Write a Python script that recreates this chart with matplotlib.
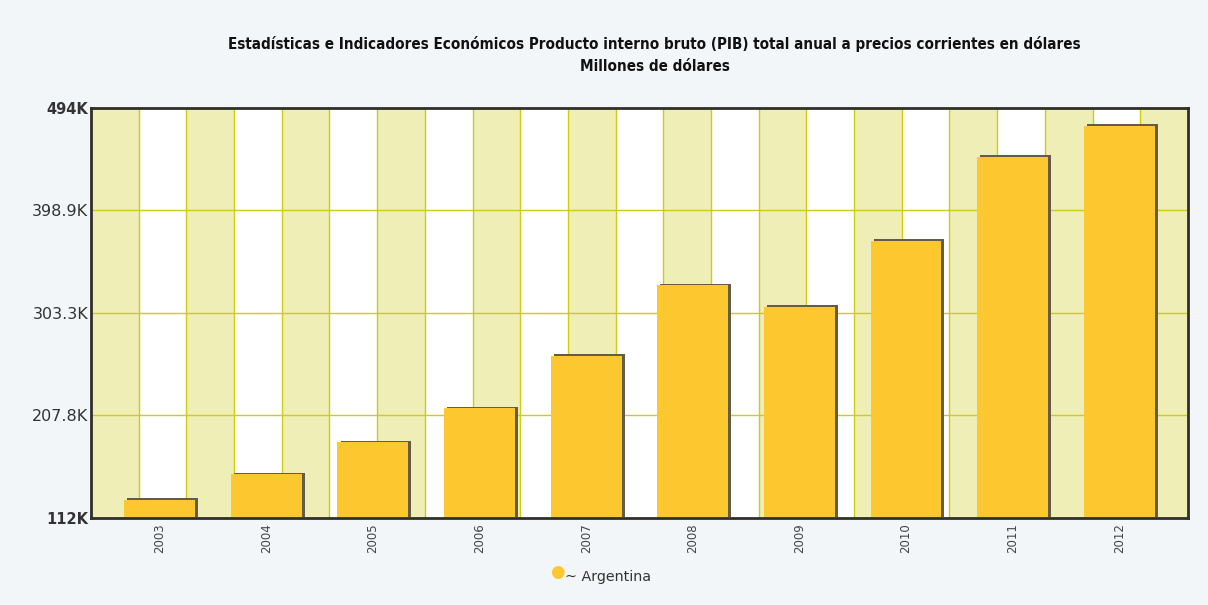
import matplotlib.pyplot as plt
import matplotlib.patheffects as pe
import numpy as np

years = ['2003', '2004', '2005', '2006', '2007', '2008', '2009', '2010', '2011', '2012']
pib = [129.2, 152.7, 182.8, 214.1, 263.1, 328.9, 308.7, 370.2, 448.4, 477.3]  # miles de millones
yticks = [112, 207.5, 303, 398.5, 494]
ytick_labels = ['112K', '207.8K', '303.3K', '398.9K', '494K']

bg = '#f3f6f9'
band = '#eeeeb6'
grid = '#cccc10'
bar_color = '#fdc72f'

fig = plt.figure(figsize=(12.08, 6.05), dpi=100, facecolor=bg)
ax = fig.add_axes([0.0753, 0.1438, 0.9081, 0.6782])
ax.set_facecolor('white')

x = np.arange(len(years))
xmin, xmax = -0.645, len(years) - 1 + 0.645
ax.set_xlim(xmin, xmax)
ax.set_ylim(yticks[0], yticks[-1])

# franjas verticales alternadas
edges = np.linspace(xmin, xmax, 24)
for i in range(len(edges) - 1):
    if i % 2 == 0:
        ax.axvspan(edges[i], edges[i + 1], color=band, lw=0, zorder=0)
for e in edges[1:-1]:
    ax.axvline(e, color=grid, lw=1, zorder=1)
for t in yticks[1:-1]:
    ax.axhline(t, color=grid, lw=1, zorder=1)

bars = ax.bar(x, [v - yticks[0] for v in pib], bottom=yticks[0], width=0.665,
              color=bar_color, zorder=3)
for b in bars:
    b.set_path_effects([pe.SimplePatchShadow(offset=(2.2, 1.0), shadow_rgbFace='#645c4a', alpha=1.0),
                        pe.Normal()])

ax.set_yticks(yticks)
ax.set_yticklabels(ytick_labels, fontsize=11.5, color='#333333')
for i in (0, len(yticks) - 1):
    ax.get_yticklabels()[i].set_fontweight('bold')
    ax.get_yticklabels()[i].set_fontsize(10.5)
ax.set_xticks(x)
ax.set_xticklabels(years, rotation=90, fontsize=8.5, color='#444444')
ax.tick_params(axis='y', length=0, pad=2)
ax.tick_params(axis='x', length=0, pad=4)

for s in ax.spines.values():
    s.set_color('#2f2f2a')
    s.set_linewidth(2)
    s.set_zorder(5)

fig.text(0.542, 0.928, 'Estadísticas e Indicadores Económicos Producto interno bruto (PIB) total anual a precios corrientes en dólares',
         ha='center', va='center', fontsize=10.9, fontweight='bold', fontstretch='condensed', color='#111111')
fig.text(0.542, 0.890, 'Millones de dólares', ha='center', va='center', fontsize=10.9,
         fontweight='bold', fontstretch='condensed', color='#111111')

# leyenda
fig.text(0.461, 0.054, '\u25CF', ha='center', va='center', fontsize=12, color=bar_color)
fig.text(0.4675, 0.047, '~ Argentina', ha='left', va='center', fontsize=10.3, color='#333333')

plt.savefig('out.png', dpi=100, facecolor=bg)
